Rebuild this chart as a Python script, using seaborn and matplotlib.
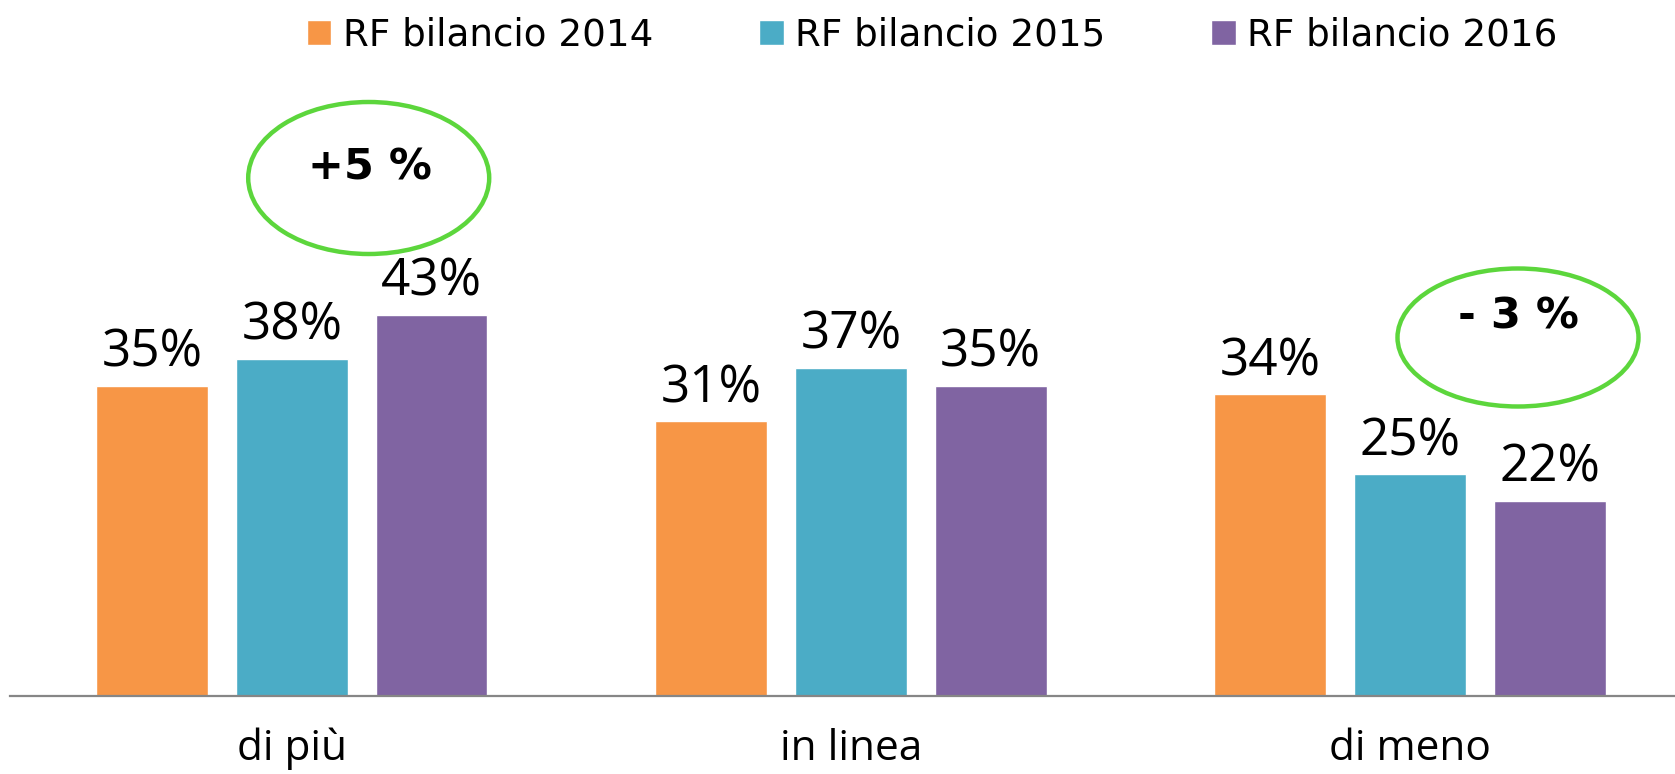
import matplotlib
matplotlib.use("Agg")
import matplotlib.pyplot as plt
from matplotlib.patches import Ellipse
import seaborn as sns
import pandas as pd

categories = ["di più", "in linea", "di meno"]
series = ["RF bilancio 2014", "RF bilancio 2015", "RF bilancio 2016"]
values_2014 = [35, 31, 34]
values_2015 = [38, 37, 25]
values_2016 = [43, 35, 22]
colors = ["#F79646", "#4BACC6", "#8064A2"]
notes = ["+5 %", "- 3 %"]

rows = []
for s, vals in zip(series, [values_2014, values_2015, values_2016]):
    for c, v in zip(categories, vals):
        rows.append({"cat": c, "serie": s, "val": v})
df = pd.DataFrame(rows)

sns.set_theme(style="white")
plt.rcParams["font.family"] = ["DejaVu Sans"]
plt.rcParams["text.color"] = "black"

W, H = 1675, 774
fig = plt.figure(figsize=(W / 100, H / 100), dpi=100)
ax = fig.add_axes([10 / W, (H - 696) / H, (W - 10) / W, 636 / H])

sns.barplot(data=df, x="cat", y="val", hue="serie", order=categories,
            hue_order=series, palette=colors, width=0.75, gap=0.2,
            saturation=1, ax=ax, errorbar=None)

ax.set_xlim(-0.504, 2.474)
ax.set_ylim(0, 71.7)
ax.set_xlabel("")
ax.set_ylabel("")
ax.set_yticks([])
for side in ["top", "right", "left"]:
    ax.spines[side].set_visible(False)
ax.spines["bottom"].set_color("#868686")
ax.spines["bottom"].set_linewidth(1.6)
ax.tick_params(axis="x", length=0, pad=23)
for lbl in ax.get_xticklabels():
    lbl.set_fontfamily(["Open Sans", "DejaVu Sans"])
    lbl.set_fontsize(30.5)
    lbl.set_color("black")

for cont in ax.containers:
    ax.bar_label(cont, labels=[f"{b.get_height():.0f}%" for b in cont],
                 padding=5, fontsize=37, color="black",
                 fontfamily=["Open Sans", "DejaVu Sans"])

leg = ax.get_legend()
handles = leg.legend_handles
leg.remove()
fig.legend(handles, series, loc="center", bbox_to_anchor=(932 / W, 1 - 35 / H),
           ncol=3, frameon=False, fontsize=26.8, handlelength=0.66,
           handleheight=0.68, handletextpad=0.3, columnspacing=2.85,
           borderaxespad=0, borderpad=0, labelcolor="black")

ell_specs = [((368.7, 178), 241, 152, (370, 179)), ((1518, 337.5), 241, 138, (1518, 329))]
for note, (c, w, h, tpos) in zip(notes, ell_specs):
    e = Ellipse((c[0] / W, 1 - c[1] / H), w / W, h / H, transform=fig.transFigure,
                fill=False, edgecolor="#5CD63C", linewidth=3.2)
    fig.add_artist(e)
    fig.text(tpos[0] / W, 1 - tpos[1] / H, note, ha="center", va="baseline",
             fontsize=31, fontweight="bold", color="black")

fig.savefig("out.png", dpi=100)
